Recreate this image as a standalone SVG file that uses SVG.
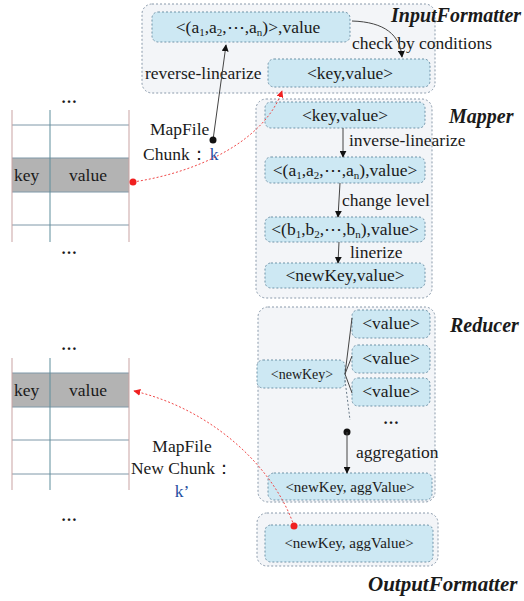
<svg xmlns="http://www.w3.org/2000/svg" width="524" height="601" viewBox="0 0 524 601">
<defs>
<style>
text{font-family:"Liberation Serif","Times New Roman",serif;fill:#1a1a1a;font-size:17.5px}
.ttl{font-weight:bold;font-style:italic;font-size:20px}
.c{text-anchor:middle}
.dots{font-weight:bold;font-size:16px}
.cont{fill:#f3f5f8;stroke:#8a9aab;stroke-width:1;stroke-dasharray:2,2}
.nd{fill:#cde8f3;stroke:#6f93a8;stroke-width:1;stroke-dasharray:2,2}
.blk{fill:none;stroke:#444;stroke-width:1}
.red{fill:none;stroke:#f04848;stroke-width:1;stroke-dasharray:2,2}
.blue{fill:#1f4fa0}
.hl{stroke:#7f98a8;stroke-width:1}
.vo{stroke:#c9a3a3;stroke-width:1}
.vi{stroke:#5f8e9c;stroke-width:1}
.sub{font-size:11px}
</style>
<marker id="ab" viewBox="0 0 10 10" refX="9" refY="5" markerWidth="7" markerHeight="7" orient="auto"><path d="M0,0L10,5L0,10z" fill="#111"/></marker>
<marker id="ar" viewBox="0 0 10 10" refX="9" refY="5" markerWidth="7" markerHeight="7" orient="auto"><path d="M0,0L10,5L0,10z" fill="#f02020"/></marker>
</defs>
<rect width="524" height="601" fill="#fff"/>

<!-- containers -->
<g id="InputFormatter">
<rect class="cont" x="142" y="4" width="293" height="89" rx="10"/>
<text class="ttl" x="391" y="22">InputFormatter</text>
</g>
<g id="Mapper">
<rect class="cont" x="256" y="99" width="176" height="199" rx="10"/>
<text class="ttl" x="449" y="123">Mapper</text>
</g>
<g id="Reducer">
<rect class="cont" x="258" y="307" width="177" height="195" rx="10"/>
<text class="ttl" x="450" y="332">Reducer</text>
</g>
<g id="OutputFormatter">
<rect class="cont" x="257" y="513" width="181" height="53" rx="10"/>
<text class="ttl" x="368" y="591" style="font-size:21px">OutputFormatter</text>
</g>

<!-- tables -->
<g id="table-top">
<rect x="12" y="158" width="117" height="34" fill="#b3b3b3"/>
<line class="hl" x1="12" y1="125" x2="129" y2="125"/>
<line class="hl" x1="12" y1="158" x2="129" y2="158"/>
<line class="hl" x1="12" y1="192" x2="129" y2="192"/>
<line class="hl" x1="12" y1="225" x2="129" y2="225"/>
<line class="vo" x1="12" y1="110" x2="12" y2="242"/>
<line class="vi" x1="50" y1="110" x2="50" y2="242"/>
<line class="vo" x1="129" y1="110" x2="129" y2="242"/>
<text x="14" y="181">key</text>
<text class="c" x="88" y="181">value</text>
<text class="c dots" x="69" y="103">…</text>
<text class="c dots" x="69" y="254">…</text>
</g>
<g id="table-bottom">
<rect x="12" y="373" width="117" height="34" fill="#b3b3b3"/>
<line class="hl" x1="12" y1="373" x2="129" y2="373"/>
<line class="hl" x1="12" y1="407" x2="129" y2="407"/>
<line class="hl" x1="12" y1="440" x2="129" y2="440"/>
<line class="hl" x1="12" y1="474" x2="129" y2="474"/>
<line class="vo" x1="12" y1="358" x2="12" y2="490"/>
<line class="vi" x1="50" y1="358" x2="50" y2="490"/>
<line class="vo" x1="129" y1="358" x2="129" y2="490"/>
<text x="14" y="396">key</text>
<text class="c" x="88" y="396">value</text>
<text class="c dots" x="69" y="350">…</text>
<text class="c dots" x="69" y="521">…</text>
</g>

<!-- nodes -->
<g id="n-in-tuple"><rect class="nd" x="152" y="12" width="198" height="30" rx="6"/>
<text class="c" x="248" y="33">&lt;(a<tspan class="sub" dy="3">1</tspan><tspan dy="-3">,a</tspan><tspan class="sub" dy="3">2</tspan><tspan dy="-3">,⋯,a</tspan><tspan class="sub" dy="3">n</tspan><tspan dy="-3">)&gt;,value</tspan></text></g>
<g id="n-in-kv"><rect class="nd" x="268" y="59" width="162" height="28" rx="6"/>
<text class="c" x="350" y="79">&lt;key,value&gt;</text></g>

<g id="n-m-kv"><rect class="nd" x="265" y="102" width="160" height="26" rx="6"/>
<text class="c" x="345" y="121">&lt;key,value&gt;</text></g>
<g id="n-m-a"><rect class="nd" x="265" y="157" width="160" height="26" rx="6"/>
<text class="c" x="345" y="176">&lt;(a<tspan class="sub" dy="3">1</tspan><tspan dy="-3">,a</tspan><tspan class="sub" dy="3">2</tspan><tspan dy="-3">,⋯,a</tspan><tspan class="sub" dy="3">n</tspan><tspan dy="-3">),value&gt;</tspan></text></g>
<g id="n-m-b"><rect class="nd" x="265" y="217" width="160" height="25" rx="6"/>
<text class="c" x="345" y="235">&lt;(b<tspan class="sub" dy="3">1</tspan><tspan dy="-3">,b</tspan><tspan class="sub" dy="3">2</tspan><tspan dy="-3">,⋯,b</tspan><tspan class="sub" dy="3">n</tspan><tspan dy="-3">),value&gt;</tspan></text></g>
<g id="n-m-nk"><rect class="nd" x="265" y="263" width="160" height="25" rx="6"/>
<text class="c" x="345" y="281">&lt;newKey,value&gt;</text></g>

<g id="n-r-key"><rect class="nd" x="257" y="360" width="88" height="28" rx="6"/>
<text class="c" x="302" y="379" style="font-size:14px">&lt;newKey&gt;</text></g>
<g id="n-r-v1"><rect class="nd" x="352" y="310" width="78" height="28" rx="6"/>
<text class="c" x="391" y="329">&lt;value&gt;</text></g>
<g id="n-r-v2"><rect class="nd" x="352" y="345" width="78" height="28" rx="6"/>
<text class="c" x="391" y="364">&lt;value&gt;</text></g>
<g id="n-r-v3"><rect class="nd" x="352" y="378" width="78" height="28" rx="6"/>
<text class="c" x="391" y="397">&lt;value&gt;</text></g>
<text class="c dots" x="391" y="424">…</text>
<g id="n-r-agg"><rect class="nd" x="268" y="473" width="164" height="27" rx="6"/>
<text class="c" x="350" y="492" style="font-size:15px">&lt;newKey, aggValue&gt;</text></g>

<g id="n-out"><rect class="nd" x="265" y="525" width="168" height="37" rx="6"/>
<text class="c" x="349" y="548" style="font-size:15px">&lt;newKey, aggValue&gt;</text></g>

<!-- labels -->
<g id="labels">
<text x="352" y="49">check by conditions</text>
<text x="145" y="79">reverse-linearize</text>
<text x="349" y="146">inverse-linearize</text>
<text x="342" y="206">change level</text>
<text x="350" y="258">linerize</text>
<text x="356" y="458">aggregation</text>
<text x="150" y="135">MapFile</text>
<text x="143" y="160">Chunk：<tspan class="blue" dx="2">k</tspan></text>
<text class="c" x="182" y="452">MapFile</text>
<text class="c" x="182" y="474">New Chunk：</text>
<text class="c blue" x="182" y="497">k’</text>
</g>

<!-- connectors -->
<g id="connectors">
<path class="blk" d="M352,21 C385,22 400,35 402,57" marker-end="url(#ab)"/>
<path class="blk" d="M213,140 L226,45" stroke="#5a6878" marker-end="url(#ab)"/>
<circle cx="213" cy="140" r="3.5" fill="#111"/>
<path class="blk" d="M343,128 L343,157" marker-end="url(#ab)"/>
<path class="blk" d="M340,183 L338,217" marker-end="url(#ab)"/>
<path class="blk" d="M339,242 L338,263" marker-end="url(#ab)"/>
<path class="blk" d="M345,374 L352,318 M345,374 L352,356 M345,374 L352,393" stroke="#6a7a88"/>
<path d="M345,380 L350,420" fill="none" stroke="#6a7a88" stroke-dasharray="2,2"/>
<circle cx="347" cy="432" r="3.5" fill="#111"/>
<path class="blk" d="M347,432 L347,473" marker-end="url(#ab)"/>
<path class="red" d="M133,182 C200,172 265,140 282,91" marker-end="url(#ar)"/>
<circle cx="133" cy="182" r="3.5" fill="#f02020"/>
<path class="red" d="M294,526 C275,470 215,410 134,391" marker-end="url(#ar)"/>
<circle cx="294" cy="526" r="3.5" fill="#f02020"/>
</g>
</svg>
